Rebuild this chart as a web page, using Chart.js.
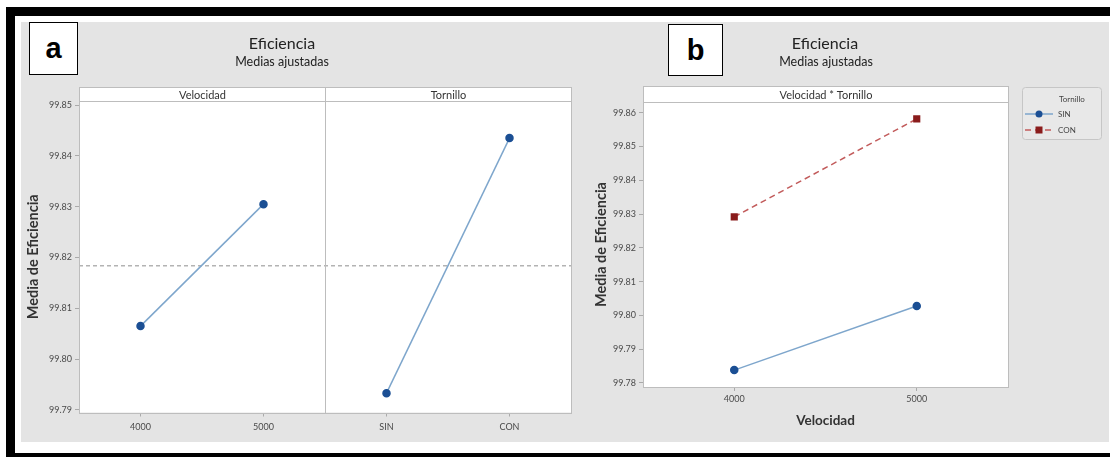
<!DOCTYPE html>
<html><head><meta charset="utf-8">
<script src="https://cdn.jsdelivr.net/npm/chart.js@4.4.1/dist/chart.umd.min.js"></script>
<style>
html,body{margin:0;padding:0;background:#fff;width:1110px;height:457px;overflow:hidden;position:relative;font-family:Lato,"Open Sans",sans-serif;}
#frame{position:absolute;left:6px;top:7px;width:1200px;height:437px;border:9px solid #000;background:#fff;}
#bg{position:absolute;left:21px;top:22px;width:1088px;height:420px;background:#e4e4e4;}
.tag{position:absolute;background:#fff;border:1px solid #000;font-family:"Liberation Sans",Arial,sans-serif;font-weight:bold;font-size:29px;text-align:center;color:#000;}
.t1{position:absolute;font-size:16px;color:#222;text-align:center;width:240px;height:18px;line-height:18px;}
.t2{position:absolute;font-size:12.5px;color:#222;text-align:center;width:240px;height:14px;line-height:14px;}
.cv{position:absolute;}
</style></head>
<body>
<div id="frame"></div>
<div id="bg"></div>
<div class="cv" style="left:21px;top:22px;width:569px;height:420px;"><canvas id="cA" width="569" height="420"></canvas></div>
<div class="cv" style="left:590px;top:22px;width:520px;height:420px;"><canvas id="cB" width="520" height="420"></canvas></div>
<div class="tag" style="left:29px;top:22px;width:47px;height:51px;line-height:51px;">a</div>
<div class="tag" style="left:668px;top:24px;width:53px;height:50px;line-height:50px;">b</div>
<div class="t1" style="left:162px;top:34px;">Eficiencia</div>
<div class="t2" style="left:162px;top:55px;">Medias ajustadas</div>
<div class="t1" style="left:705px;top:34px;">Eficiencia</div>
<div class="t2" style="left:706px;top:55px;">Medias ajustadas</div>
<script>
// ---- data ----
const velocidadLevels = ['4000', '5000'];
const tornilloLevels = ['SIN', 'CON'];
const velocidadMeans = [99.8065, 99.8305];
const tornilloMeans = [99.7933, 99.8435];
const grandMean = 99.8184;
const sinMeans = [99.7838, 99.8028];
const conMeans = [99.8292, 99.8582];
const yTicksA = [99.79, 99.80, 99.81, 99.82, 99.83, 99.84, 99.85];
const yTicksB = [99.78, 99.79, 99.80, 99.81, 99.82, 99.83, 99.84, 99.85, 99.86];
const stripsA = ['Velocidad', 'Tornillo'];
const stripsB = ['Velocidad * Tornillo'];
const legendTitle = 'Tornillo';
const yTitle = 'Media de Eficiencia';
const xTitleB = 'Velocidad';

const FONT = 'Lato, "Open Sans", sans-serif';
const BLUE_LINE = '#7ea6cc', BLUE_PT = '#1b4f94';
const RED_LINE = '#c25b5b', RED_PT = '#8a1c1c';
const BORDER = '#bdbdbd';

const panelPlugin = {
  id: 'panel',
  beforeDraw(chart) {
    const {ctx, chartArea: a} = chart;
    ctx.save();
    ctx.fillStyle = '#fff';
    ctx.fillRect(a.left, a.top, a.right - a.left, a.bottom - a.top);
    ctx.restore();
  },
  beforeDatasetsDraw(chart, args, o) {
    if (o.refValue == null) return;
    const {ctx, chartArea: a, scales: {y}} = chart;
    const py = y.getPixelForValue(o.refValue);
    ctx.save();
    ctx.strokeStyle = '#b3b3b3'; ctx.lineWidth = 1.5; ctx.setLineDash([4, 3]);
    ctx.beginPath(); ctx.moveTo(a.left, py); ctx.lineTo(a.right, py); ctx.stroke();
    ctx.restore();
  },
  afterDraw(chart, args, o) {
    const {ctx, chartArea: a, scales: {x}} = chart;
    const n = chart.data.labels.length;
    const groups = o.strips.length;
    const per = n / groups;
    const edge = (i) => i <= 0 ? a.left : (i >= n ? a.right : (x.getPixelForValue(i - 1) + x.getPixelForValue(i)) / 2);
    ctx.save();
    ctx.strokeStyle = BORDER; ctx.lineWidth = 1;
    o.strips.forEach((t, g) => {
      const l = Math.round(edge(g * per)) + 0.5, r = Math.round(edge((g + 1) * per)) + 0.5;
      const top = Math.round(a.top - o.stripH) + 0.5, bot = Math.round(a.top) + 0.5;
      ctx.fillStyle = '#fff';
      ctx.fillRect(l, top, r - l, bot - top);
      ctx.strokeRect(l, top, r - l, bot - top);
      ctx.strokeRect(l, bot, r - l, Math.round(a.bottom) + 0.5 - bot);
      ctx.fillStyle = '#333'; ctx.font = '11px ' + FONT;
      ctx.textAlign = 'center'; ctx.textBaseline = 'middle';
      ctx.fillText(t, (l + r) / 2, (top + bot) / 2 + 0.5);
    });
    ctx.restore();
    const L = chart.options.plugins.boxLegend;
    if (L && L.display) {
      const x0 = a.right + 14, y0 = a.top - 15, w = 79, h = 52;
      ctx.save();
      ctx.fillStyle = '#e8e8e8'; ctx.strokeStyle = '#c6c6c6'; ctx.lineWidth = 1;
      ctx.beginPath(); ctx.roundRect(x0 + 0.5, y0 + 0.5, w, h, 3); ctx.fill(); ctx.stroke();
      ctx.fillStyle = '#444'; ctx.font = '8px ' + FONT; ctx.textAlign = 'left'; ctx.textBaseline = 'middle';
      ctx.fillText(L.title, x0 + 37, y0 + 12);
      chart.data.datasets.forEach((ds, i) => {
        const yy = y0 + 27 + i * 16;
        ctx.strokeStyle = ds.borderColor; ctx.lineWidth = 1.5; ctx.setLineDash(ds.borderDash || []);
        ctx.beginPath(); ctx.moveTo(x0 + 3, yy); ctx.lineTo(x0 + 31, yy); ctx.stroke();
        ctx.setLineDash([]);
        ctx.fillStyle = ds.pointBackgroundColor;
        if (ds.pointStyle === 'rect') ctx.fillRect(x0 + 17 - 3.5, yy - 3.5, 7, 7);
        else { ctx.beginPath(); ctx.arc(x0 + 17, yy, 3.5, 0, Math.PI * 2); ctx.fill(); }
        ctx.fillStyle = '#444';
        ctx.fillText(ds.label, x0 + 36, yy);
      });
      ctx.restore();
    }
  }
};

function yScale(ticks, min, max, width) {
  return {
    min, max,
    afterBuildTicks: s => { s.ticks = ticks.map(v => ({value: v})); },
    afterFit: s => { s.width = width; },
    ticks: {callback: v => Number(v).toFixed(2), font: {size: 9, family: FONT}, color: '#4a4a4a', padding: 3},
    grid: {drawOnChartArea: false, drawTicks: true, tickLength: 4, color: '#aaa'},
    border: {display: false},
    title: {display: true, text: yTitle, font: {size: 14.5, weight: 'bold', family: FONT}, color: '#333', padding: 0}
  };
}

Chart.register(panelPlugin);

new Chart(document.getElementById('cA'), {
  type: 'line',
  data: {
    labels: [...velocidadLevels, ...tornilloLevels],
    datasets: [
      {label: 'Velocidad', data: [...velocidadMeans, null, null], borderColor: BLUE_LINE, borderWidth: 1.5,
       pointBackgroundColor: BLUE_PT, pointBorderColor: BLUE_PT, pointRadius: 3.5, spanGaps: false},
      {label: 'Tornillo', data: [null, null, ...tornilloMeans], borderColor: BLUE_LINE, borderWidth: 1.5,
       pointBackgroundColor: BLUE_PT, pointBorderColor: BLUE_PT, pointRadius: 3.5, spanGaps: false}
    ]
  },
  options: {
    responsive: false, animation: false, events: [], devicePixelRatio: 1,
    layout: {padding: {left: 4, right: 19, top: 79, bottom: 0}},
    plugins: {legend: {display: false}, tooltip: {enabled: false},
      panel: {strips: stripsA, stripH: 14, refValue: grandMean}},
    scales: {
      x: {type: 'category', offset: true,
        afterFit: s => { s.height = 29.5; },
        ticks: {font: {size: 9, family: FONT}, color: '#4a4a4a', padding: 5, maxRotation: 0},
        grid: {drawOnChartArea: false, offset: false, tickLength: 4, color: '#aaa'},
        border: {display: false}},
      y: yScale(yTicksA, 99.7895, 99.8508, 54)
    }
  }
});

new Chart(document.getElementById('cB'), {
  type: 'line',
  data: {
    labels: velocidadLevels,
    datasets: [
      {label: 'SIN', data: sinMeans, borderColor: BLUE_LINE, borderWidth: 1.5,
       pointBackgroundColor: BLUE_PT, pointBorderColor: BLUE_PT, pointRadius: 3.5},
      {label: 'CON', data: conMeans, borderColor: RED_LINE, borderWidth: 1.5, borderDash: [6, 4],
       pointStyle: 'rect', pointBackgroundColor: RED_PT, pointBorderColor: RED_PT, pointRadius: 4}
    ]
  },
  options: {
    responsive: false, animation: false, events: [], devicePixelRatio: 1,
    layout: {padding: {left: 2.5, right: 102, top: 80, bottom: 13}},
    plugins: {legend: {display: false}, tooltip: {enabled: false},
      panel: {strips: stripsB, stripH: 16, refValue: null},
      boxLegend: {display: true, title: legendTitle}},
    scales: {
      x: {type: 'category', offset: true,
        afterFit: s => { s.height = 42; },
        ticks: {font: {size: 9, family: FONT}, color: '#4a4a4a', padding: 3, maxRotation: 0},
        grid: {drawOnChartArea: false, offset: false, tickLength: 4, color: '#aaa'},
        border: {display: false},
        title: {display: true, text: xTitleB, font: {size: 13.5, weight: 'bold', family: FONT}, color: '#333', padding: 0}},
      y: yScale(yTicksB, 99.7788, 99.8632, 50.5)
    }
  }
});
</script>
</body></html>
